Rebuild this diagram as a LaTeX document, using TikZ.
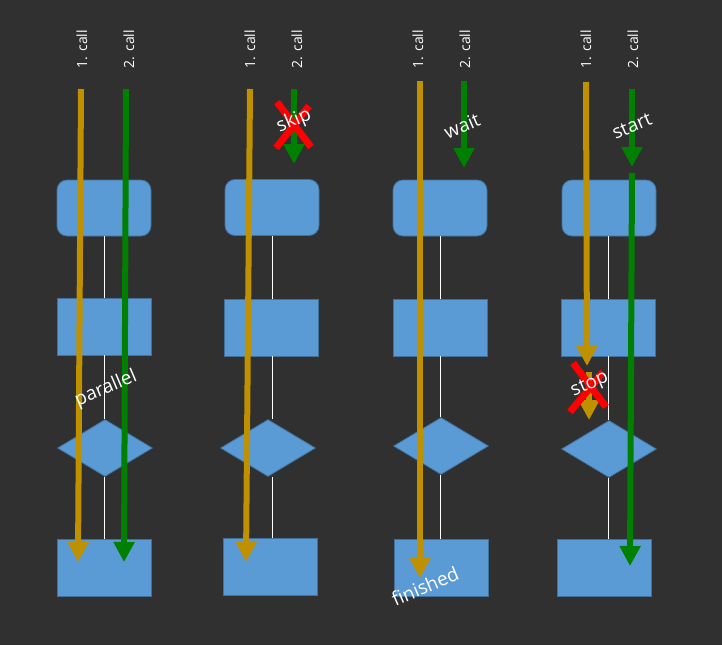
\documentclass[tikz,border=0pt]{standalone}
\usepackage{fontspec}
\setmainfont{Open Sans}
\usetikzlibrary{shapes.geometric,arrows.meta}
\definecolor{bg}{HTML}{303030}
\definecolor{boxfill}{HTML}{5B9BD5}
\definecolor{boxline}{HTML}{41719C}
\definecolor{callorange}{HTML}{BF9000}
\definecolor{callgreen}{HTML}{008000}
\definecolor{crossred}{HTML}{FF0000}
\tikzset{
  shp/.style={fill=boxfill,draw=boxline,line width=0.8pt,inner sep=0pt},
  rbox/.style={shp,rectangle,rounded corners=10pt,minimum width=94pt,minimum height=56pt},
  sbox/.style={shp,rectangle,minimum width=94pt,minimum height=57pt},
  dbox/.style={shp,diamond,minimum width=95pt,minimum height=57pt},
  flow/.style={white,line width=0.8pt},
  callarrow/.style={line width=6pt,-{Triangle[width=20pt,length=20pt]}},
  orangearrow/.style={callarrow,draw=callorange,fill=callorange},
  greenarrow/.style={callarrow,draw=callgreen,fill=callgreen},
  calllabel/.style={text=white,rotate=90,font=\fontsize{14}{16}\selectfont,inner sep=0pt},
  note/.style={text=white,rotate=23,font=\fontsize{19}{21}\selectfont,inner sep=0pt},
  cross/.style={draw=crossred,line width=7pt},
}
\begin{document}
\begin{tikzpicture}[x=1pt,y=-1pt]
\fill[bg] (0,0) rectangle (722,645);
\useasboundingbox (0,0) rectangle (722,645);

% ---------- shapes ----------
% column 1
\node[rbox] (a1) at (104,208) {};
\node[sbox] (a2) at (104,326.5) {};
\node[dbox] (a3) at (105,448) {};
\node[sbox] (a4) at (104,568) {};
% column 2
\node[rbox] (b1) at (272,207.5) {};
\node[sbox] (b2) at (271,327.5) {};
\node[dbox] (b3) at (268,448) {};
\node[sbox] (b4) at (270,567) {};
% column 3
\node[rbox] (c1) at (440,208) {};
\node[sbox] (c2) at (440,327.5) {};
\node[dbox] (c3) at (441,446) {};
\node[sbox] (c4) at (441,568) {};
% column 4
\node[rbox] (d1) at (609,208) {};
\node[sbox] (d2) at (608,327.5) {};
\node[dbox] (d3) at (609,449) {};
\node[sbox] (d4) at (604,568) {};

% flow lines between shapes
\draw[flow] (a1.south -| 104,0) -- (a2.north -| 104,0);
\draw[flow] (a2.south -| 104,0) -- (a3.north -| 104,0);
\draw[flow] (a3.south -| 104,0) -- (a4.north -| 104,0);
\draw[flow] (b1.south -| 272,0) -- (b2.north -| 272,0);
\draw[flow] (b2.south -| 272,0) -- (b3.north -| 272,0);
\draw[flow] (b3.south -| 272,0) -- (b4.north -| 272,0);
\draw[flow] (c1.south -| 440,0) -- (c2.north -| 440,0);
\draw[flow] (c2.south -| 440,0) -- (c3.north -| 440,0);
\draw[flow] (c3.south -| 440,0) -- (c4.north -| 440,0);
\draw[flow] (d1.south -| 608,0) -- (d2.north -| 608,0);
\draw[flow] (d2.south -| 608,0) -- (d3.north -| 608,0);
\draw[flow] (d3.south -| 608,0) -- (d4.north -| 608,0);

% ---------- call labels ----------
\node[calllabel] (l1a) at (82,49) {1. call};
\node[calllabel] (l1b) at (129,49) {2. call};
\node[calllabel] (l2a) at (250,49) {1. call};
\node[calllabel] (l2b) at (297,49) {2. call};
\node[calllabel] (l3a) at (418,49) {1. call};
\node[calllabel] (l3b) at (465,49) {2. call};
\node[calllabel] (l4a) at (586,49) {1. call};
\node[calllabel] (l4b) at (633,49) {2. call};

% ---------- arrow coordinates ----------
\coordinate (o1s) at (81,89);   \coordinate (o1e) at (78,562);
\coordinate (g1s) at (126,89);  \coordinate (g1e) at (124,562);
\coordinate (o2s) at (250,89);  \coordinate (o2e) at (246,562);
\coordinate (g2s) at (294,89);  \coordinate (g2e) at (294,164);
\coordinate (o3s) at (420,81);  \coordinate (o3e) at (420,578);
\coordinate (g3s) at (464,81);  \coordinate (g3e) at (464,168);
\coordinate (o4s) at (586,82);  \coordinate (o4e) at (587,366);
\coordinate (o4bs) at (589,372); \coordinate (o4be) at (589,420);
\coordinate (g4s) at (632,89);  \coordinate (g4e) at (632,167);
\coordinate (g4bs) at (632,173); \coordinate (g4be) at (630,566);

% ---------- arrows ----------
\draw[orangearrow] (o1s) -- (o1e);
\draw[greenarrow] (g1s) -- (g1e);
\draw[orangearrow] (o2s) -- (o2e);
\draw[greenarrow] (g2s) -- (g2e);
\draw[orangearrow] (o3s) -- (o3e);
\draw[greenarrow] (g3s) -- (g3e);
\draw[orangearrow] (o4s) -- (o4e);
\draw[orangearrow] (o4bs) -- (o4be);
\draw[greenarrow] (g4s) -- (g4e);
\draw[greenarrow] (g4bs) -- (g4be);

% ---------- crosses ----------
\coordinate (x1a) at (277,102); \coordinate (x1b) at (311,147);
\coordinate (x1c) at (309,106); \coordinate (x1d) at (276,148);
\draw[cross] (x1a) -- (x1b);
\draw[cross] (x1c) -- (x1d);
\coordinate (x2a) at (573,363); \coordinate (x2b) at (606,407);
\coordinate (x2c) at (603,372); \coordinate (x2d) at (570,412);
\draw[cross] (x2a) -- (x2b);
\draw[cross] (x2c) -- (x2d);

% ---------- notes ----------
\node[note] (skip) at (294,121) {skip};
\node[note] (wait) at (462,126) {wait};
\node[note] (start) at (632,126) {start};
\node[note] (parallel) at (106,389) {parallel};
\node[note] (stop) at (590,385) {stop};
\node[note] (finished) at (425,586) {finished};
\end{tikzpicture}
\end{document}
